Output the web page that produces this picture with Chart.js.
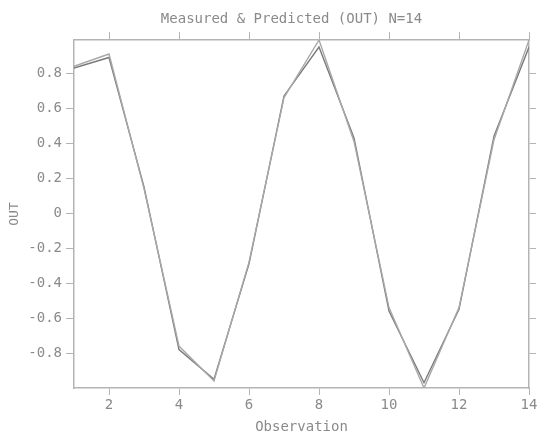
<!DOCTYPE html>
<html>
<head>
<meta charset="utf-8">
<script src="https://cdn.jsdelivr.net/npm/chart.js@4/dist/chart.umd.min.js"></script>
<style>
html,body{margin:0;padding:0;background:#fff;}
#wrap{width:537px;height:434px;}
</style>
</head>
<body>
<div id="wrap"><canvas id="c" width="537" height="434"></canvas></div>
<script>
const observations = [1,2,3,4,5,6,7,8,9,10,11,12,13,14];
const measured  = [0.84, 0.91, 0.14, -0.76, -0.96, -0.28, 0.66, 0.99, 0.41, -0.54, -1.00, -0.54, 0.42, 0.99];
const predicted = [0.83, 0.89, 0.15, -0.78, -0.95, -0.29, 0.67, 0.95, 0.43, -0.56, -0.97, -0.55, 0.44, 0.95];
const xTicks = [2,4,6,8,10,12,14];
const yTicks = [-0.8,-0.6,-0.4,-0.2,0,0.2,0.4,0.6,0.8];
const titleText = 'Measured & Predicted (OUT) N=14';
const xTitle = 'Observation';
const yTitle = 'OUT';

const allVals = measured.concat(predicted);
const yMin = Math.min(...allVals);
const yMax = Math.max(...allVals);

const axisColor = '#b4b4b4';
const textColor = '#8a8a8a';
const mono = '"DejaVu Sans Mono", "Liberation Mono", monospace';

function pts(arr){ return observations.map((x,i)=>({x:x,y:arr[i]})); }
function setTicks(list){ return function(scale){ scale.ticks = list.map(v=>({value:v})); }; }

const titlePlugin = {
  id:'topTitle',
  afterDraw(chart){
    const ca = chart.chartArea, ctx = chart.ctx;
    ctx.save();
    ctx.font = '14px ' + mono;
    ctx.fillStyle = textColor;
    ctx.textAlign = 'center';
    ctx.textBaseline = 'middle';
    ctx.fillText(titleText, (ca.left+ca.right)/2 - 10, 19);
    ctx.restore();
  }
};

new Chart(document.getElementById('c'), {
  type:'line',
  data:{
    datasets:[
      {label:'Measured', data:pts(measured), borderColor:'#a8a8a8', borderWidth:1.4, pointRadius:0, tension:0, fill:false},
      {label:'Predicted', data:pts(predicted), borderColor:'#7a7a7a', borderWidth:1.4, pointRadius:0, tension:0, fill:false}
    ]
  },
  options:{
    responsive:false,
    animation:false,
    layout:{padding:0},
    plugins:{legend:{display:false}, title:{display:false}, tooltip:{enabled:false}},
    scales:{
      x:{
        type:'linear', position:'bottom', min:1, max:14,
        afterBuildTicks:setTicks(xTicks),
        afterFit(s){ s.height = 46; s.paddingLeft = 0; s.paddingRight = 0; },
        grid:{drawOnChartArea:false, drawTicks:true, tickLength:7, color:axisColor},
        border:{display:true, color:axisColor, width:1.5},
        ticks:{color:textColor, font:{family:mono, size:14}, padding:2, maxRotation:0, autoSkip:false},
        title:{display:true, text:xTitle, color:textColor, font:{family:mono, size:14, lineHeight:1}, padding:{top:0,bottom:0}}
      },
      x2:{
        type:'linear', position:'top', min:1, max:14,
        afterBuildTicks:setTicks(xTicks),
        afterFit(s){ s.height = 40; s.paddingLeft = 0; s.paddingRight = 0; },
        grid:{drawOnChartArea:false, drawTicks:true, tickLength:8, color:axisColor},
        border:{display:true, color:axisColor, width:1.5},
        ticks:{display:false}
      },
      y:{
        type:'linear', position:'left', min:yMin, max:yMax,
        afterBuildTicks:setTicks(yTicks),
        afterFit(s){ s.width = 74; s.paddingTop = 0; s.paddingBottom = 0; },
        grid:{drawOnChartArea:false, drawTicks:true, tickLength:8, color:axisColor},
        border:{display:true, color:axisColor, width:1.5},
        ticks:{color:textColor, font:{family:mono, size:14}, padding:4, callback:v=>String(Math.round(v*10)/10)},
        title:{display:true, text:yTitle, color:textColor, font:{family:mono, size:13, lineHeight:1}, padding:{top:8,bottom:0}}
      },
      y2:{
        type:'linear', position:'right', min:yMin, max:yMax,
        afterBuildTicks:setTicks(yTicks),
        afterFit(s){ s.width = 8; s.paddingTop = 0; s.paddingBottom = 0; },
        grid:{drawOnChartArea:false, drawTicks:true, tickLength:7, color:axisColor},
        border:{display:true, color:axisColor, width:1.5},
        ticks:{display:false}
      }
    }
  },
  plugins:[titlePlugin]
});
</script>
</body>
</html>
